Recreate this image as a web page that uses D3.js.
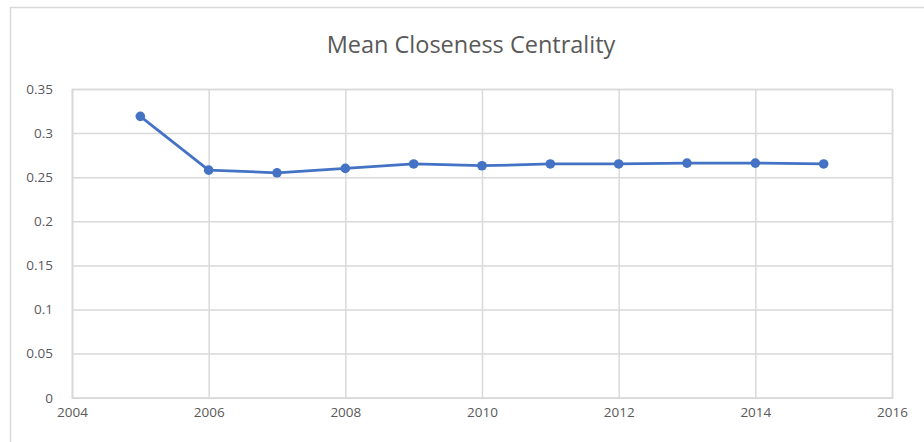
<!DOCTYPE html>
<html>
<head>
<meta charset="utf-8">
<script src="https://cdn.jsdelivr.net/npm/d3@7"></script>
<style>
  html, body { margin: 0; padding: 0; background: #ffffff; }
  svg { display: block; }
</style>
</head>
<body>
<svg id="chart" width="924" height="442"></svg>
<script>
// Mean closeness centrality per year
const years = [2005, 2006, 2007, 2008, 2009, 2010, 2011, 2012, 2013, 2014, 2015];
const closeness = [0.319, 0.258, 0.255, 0.260, 0.265, 0.263, 0.265, 0.265, 0.266, 0.266, 0.265];
const xTicks = [2004, 2006, 2008, 2010, 2012, 2014, 2016];
const yTicks = [0, 0.05, 0.1, 0.15, 0.2, 0.25, 0.3, 0.35];
const chartTitle = "Mean Closeness Centrality";

const svg = d3.select("#chart");
const W = 924, H = 442;
const plot = { left: 72, right: 892, top: 89, bottom: 397.7 };
const grid = "#d9d9d9", textCol = "#595959", lineCol = "#4472c4";
const font = "'Open Sans', 'Liberation Sans', sans-serif";

// chart frame (runs off the right and bottom edges)
svg.append("path")
  .attr("d", `M10.5,${H} L10.5,7.5 L${W},7.5`)
  .attr("fill", "none").attr("stroke", grid).attr("stroke-width", 1.5);

const x = d3.scaleLinear().domain([2004, 2016]).range([plot.left, plot.right]);
const y = d3.scaleLinear().domain([0, 0.35]).range([plot.bottom, plot.top]);

// horizontal gridlines + y labels
const yAxis = d3.axisLeft(y).tickValues(yTicks).tickSize(-(plot.right - plot.left))
  .tickPadding(19).tickFormat(d => d === 0 ? "0" : String(+d.toFixed(2)));
const gy = svg.append("g").attr("transform", `translate(${plot.left},0)`).call(yAxis);
gy.select(".domain").attr("stroke", grid).attr("stroke-width", 1.5);
gy.selectAll(".tick line").attr("stroke", grid).attr("stroke-width", 1.5);
gy.selectAll(".tick text").attr("fill", textCol).attr("font-family", font).attr("font-size", 13.5);

// vertical gridlines + x labels
const xAxis = d3.axisBottom(x).tickValues(xTicks).tickSize(-(plot.bottom - plot.top))
  .tickPadding(10).tickFormat(d3.format("d"));
const gx = svg.append("g").attr("transform", `translate(0,${plot.bottom})`).call(xAxis);
gx.select(".domain").attr("stroke", grid).attr("stroke-width", 1.5);
gx.selectAll(".tick line").attr("stroke", grid).attr("stroke-width", 1.5);
gx.selectAll(".tick text").attr("fill", textCol).attr("font-family", font).attr("font-size", 13.5);

// title
svg.append("text")
  .attr("x", 471).attr("y", 53)
  .attr("text-anchor", "middle")
  .attr("fill", textCol).attr("font-family", font).attr("font-size", 23.5)
  .text(chartTitle);

// series line and markers
const data = years.map((yr, i) => ({ yr, v: closeness[i] }));
svg.append("path")
  .datum(data)
  .attr("fill", "none").attr("stroke", lineCol).attr("stroke-width", 2.75)
  .attr("stroke-linejoin", "round")
  .attr("d", d3.line().x(d => x(d.yr)).y(d => y(d.v)));
svg.append("g").selectAll("circle").data(data).join("circle")
  .attr("cx", d => x(d.yr)).attr("cy", d => y(d.v)).attr("r", 4.8)
  .attr("fill", lineCol);
</script>
</body>
</html>
